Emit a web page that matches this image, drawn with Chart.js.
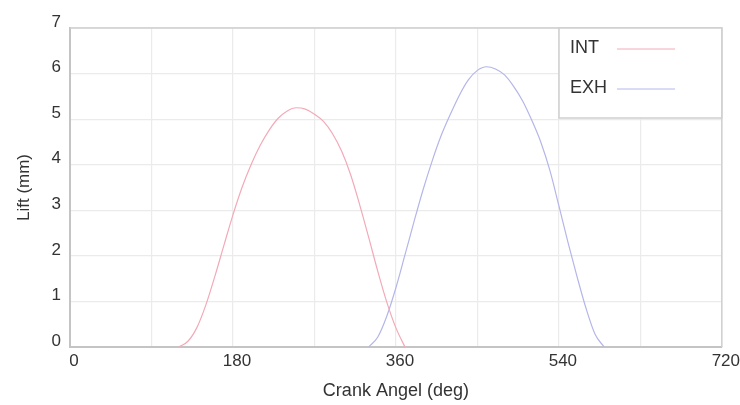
<!DOCTYPE html>
<html>
<head>
<meta charset="utf-8">
<title>Valve Lift</title>
<script src="https://cdn.jsdelivr.net/npm/chart.js@4.4.1/dist/chart.umd.min.js"></script>
<style>
  html, body { margin: 0; padding: 0; background: #fff; }
  #wrap { width: 740px; height: 405px; }
</style>
</head>
<body>
<div id="wrap"><canvas id="liftChart"></canvas></div>
<script>
// crank angle (deg) and valve lift (mm)
const intAngle = [120, 130, 140, 150, 160, 170, 180, 190, 200, 210, 220, 230, 240, 250,
                  260, 270, 280, 290, 300, 310, 320, 330, 340, 350, 360, 370];
const intLift  = [0, 0.12, 0.42, 0.92, 1.55, 2.23, 2.9, 3.5, 4.0, 4.42, 4.76, 5.02, 5.18, 5.25,
                  5.22, 5.11, 4.95, 4.68, 4.3, 3.78, 3.12, 2.4, 1.66, 0.98, 0.42, 0];

const exhAngle = [330, 340, 350, 360, 370, 380, 390, 400, 410, 420, 430, 440, 450, 460,
                  470, 480, 490, 500, 510, 520, 530, 540, 550, 560, 570, 580, 590];
const exhLift  = [0, 0.22, 0.68, 1.3, 2.02, 2.75, 3.45, 4.08, 4.64, 5.1, 5.52, 5.86, 6.07, 6.15,
                  6.1, 5.97, 5.72, 5.4, 4.98, 4.5, 3.88, 3.1, 2.3, 1.55, 0.85, 0.28, 0];

const seriesNames = ['INT', 'EXH'];
const seriesColors = ['#f2aab8', '#b4b6e8'];

const xTickLabels = [0, 180, 360, 540, 720];
const yMax = 7;

const FONT = '"Liberation Sans", Arial, sans-serif';
const TEXT = '#333333';

function toPoints(xs, ys) {
    return xs.map((x, i) => ({ x: x, y: ys[i] }));
}

// frame round the plot area (top and right edges)
const framePlugin = {
    id: 'frame',
    beforeDatasetsDraw(chart) {
        const a = chart.chartArea;
        const ctx = chart.ctx;
        ctx.save();
        ctx.strokeStyle = '#cfcfcf';
        ctx.lineWidth = 1.5;
        ctx.beginPath();
        ctx.moveTo(a.left, a.top);
        ctx.lineTo(a.right, a.top);
        ctx.lineTo(a.right, a.bottom);
        ctx.stroke();
        ctx.restore();
    }
};

// boxed legend in the top right corner: name first, then a line sample
const boxLegend = {
    id: 'boxLegend',
    afterDatasetsDraw(chart) {
        const a = chart.chartArea;
        const ctx = chart.ctx;
        const x0 = 559, y0 = a.top, w = a.right - x0, h = 90;
        ctx.save();
        ctx.fillStyle = '#ffffff';
        ctx.fillRect(x0, y0, w, h);
        ctx.strokeStyle = '#cfcfcf';
        ctx.lineWidth = 1.5;
        ctx.strokeRect(x0, y0, w, h);
        ctx.font = '18px ' + FONT;
        ctx.textBaseline = 'middle';
        ctx.textAlign = 'left';
        chart.data.datasets.forEach((ds, i) => {
            const y = y0 + 20 + i * 40;
            ctx.fillStyle = TEXT;
            ctx.fillText(ds.label, 570, y);
            ctx.strokeStyle = ds.borderColor;
            ctx.lineWidth = 1;
            ctx.beginPath();
            ctx.moveTo(617, y + 1);
            ctx.lineTo(675, y + 1);
            ctx.stroke();
        });
        ctx.restore();
    }
};

const ctx = document.getElementById('liftChart').getContext('2d');
new Chart(ctx, {
    type: 'line',
    data: {
        datasets: [
            {
                label: seriesNames[0],
                data: toPoints(intAngle, intLift),
                borderColor: seriesColors[0],
                borderWidth: 1.2,
                pointRadius: 0,
                cubicInterpolationMode: 'monotone',
                fill: false
            },
            {
                label: seriesNames[1],
                data: toPoints(exhAngle, exhLift),
                borderColor: seriesColors[1],
                borderWidth: 1.2,
                pointRadius: 0,
                cubicInterpolationMode: 'monotone',
                fill: false
            }
        ]
    },
    options: {
        responsive: true,
        maintainAspectRatio: false,
        animation: false,
        layout: { padding: { left: 0, right: 18, top: 28, bottom: 0 } },
        plugins: {
            legend: { display: false },
            tooltip: { enabled: false }
        },
        scales: {
            x: {
                type: 'linear',
                min: 0,
                max: 720,
                afterFit(scale) { scale.height = 58; },
                afterBuildTicks(scale) {
                    const t = [];
                    for (let v = 0; v <= 720; v += 90) t.push({ value: v });
                    scale.ticks = t;
                },
                ticks: {
                    autoSkip: false,
                    maxRotation: 0,
                    padding: 4,
                    labelOffset: 4,
                    color: TEXT,
                    font: { family: FONT, size: 17 },
                    callback: v => xTickLabels.includes(v) ? String(v) : ''
                },
                grid: { color: '#ebebeb', lineWidth: 1.2, drawTicks: false },
                border: { display: true, color: '#c4c4c4', width: 2 },
                title: {
                    display: true,
                    text: 'Crank Angel (deg)',
                    color: TEXT,
                    font: { family: FONT, size: 18 },
                    padding: { top: 0, bottom: 3 }
                }
            },
            y: {
                min: 0,
                max: yMax,
                afterFit(scale) { scale.width = 70; },
                ticks: {
                    stepSize: 1,
                    padding: 9,
                    labelOffset: -6,
                    color: TEXT,
                    font: { family: FONT, size: 17 }
                },
                grid: { color: '#ebebeb', lineWidth: 1.2, drawTicks: false },
                border: { display: true, color: '#c4c4c4', width: 2 },
                title: {
                    display: true,
                    text: 'Lift (mm)',
                    color: TEXT,
                    font: { family: FONT, size: 17 },
                    padding: { top: 14, bottom: 0 }
                }
            }
        }
    },
    plugins: [framePlugin, boxLegend]
});
</script>
</body>
</html>
